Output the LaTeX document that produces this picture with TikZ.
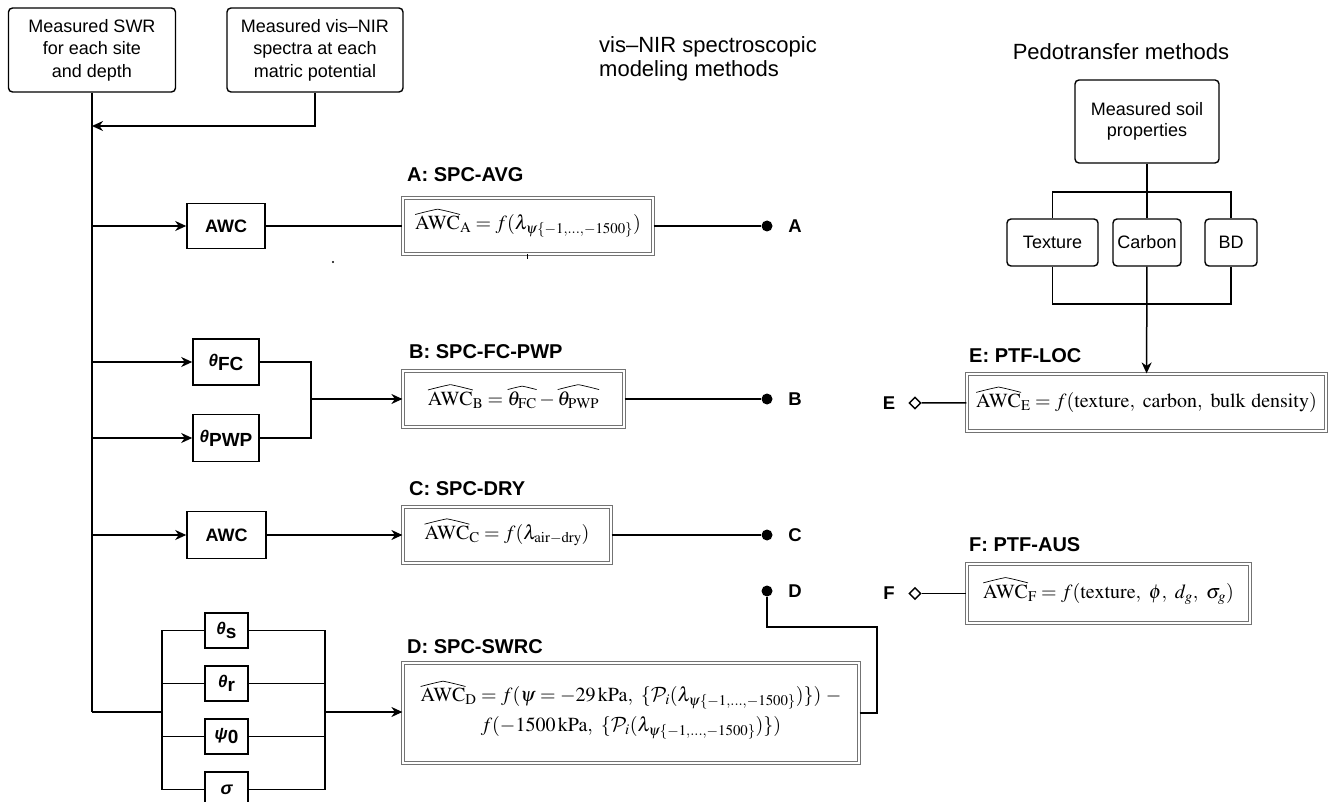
\documentclass[tikz,border=0pt]{standalone}
\usepackage{mathptmx}
\usepackage[no-math]{fontspec}
\setmainfont{Liberation Sans}
\usepackage{pict2e}
\usetikzlibrary{arrows.meta,shapes.geometric}
\DeclareMathAlphabet{\mathcal}{OMS}{cmsy}{m}{n}

\newsavebox\whbox
\newcommand\wh[1]{\mbox{\sbox\whbox{$#1$}%
  \setlength{\unitlength}{\wd\whbox}%
  \usebox\whbox\hspace*{-\wd\whbox}%
  \raisebox{\dimexpr\ht\whbox+1.8pt\relax}{\begin{picture}(1,0)\linethickness{0.7pt}%
    \qbezier(0,0)(0.3,0.08)(0.5,0.12)\qbezier(0.5,0.12)(0.7,0.08)(1,0)\end{picture}}}}
\newcommand\gsub[2]{{\fontsize{17}{17}\selectfont\bfseries\itshape #1}\raisebox{-4pt}{\fontsize{19}{19}\selectfont\bfseries #2}}

\tikzset{
  conn/.style={line width=1.5pt, draw=black},
  arr/.style={conn, -{Stealth[length=11pt,width=10pt,inset=3.5pt]}},
  rbox/.style={draw, line width=1.4pt, rounded corners=4pt, align=center, inner sep=0pt,
    font=\fontsize{18}{22.5}\selectfont},
  sbox/.style={draw, line width=1.6pt, align=center, inner sep=0pt,
    font=\fontsize{18}{20}\selectfont\bfseries},
  fmbox/.style={draw=black!55, double=white, double distance=1.3pt, line width=1.2pt,
    align=center, inner sep=0pt, font=\fontsize{20}{30}\selectfont},
  ttl/.style={anchor=west, inner sep=0pt, font=\fontsize{20}{24}\selectfont\bfseries},
  htitle/.style={inner sep=0pt, font=\fontsize{22}{24}\selectfont},
  lbl/.style={inner sep=0pt, font=\fontsize{18.5}{20}\selectfont\bfseries},
  dotn/.style={circle, fill=black, inner sep=0pt, minimum size=11pt},
  dia/.style={diamond, draw, line width=1.4pt, inner sep=0pt, minimum size=12pt, fill=white},
}

\begin{document}
\begin{tikzpicture}[x=1pt,y=-1pt]
\fill[white] (0,0) rectangle (1328,802);
\useasboundingbox (0,0) rectangle (1328,802);

% inputs
\node[rbox, minimum width=167pt, minimum height=84pt] (swr) at (92,50) {Measured SWR\\for each site\\and depth};
\node[rbox, minimum width=176pt, minimum height=84pt] (nir) at (315,50) {Measured vis–NIR\\spectra at each\\matric potential};

\coordinate (jN) at (92,126);
\coordinate (jA) at (92,226);
\coordinate (jB1) at (92,362);
\coordinate (jB2) at (92,438);
\coordinate (jC) at (92,535);
\coordinate (jD) at (92,712);
\draw[conn] (swr.south) -- (jD);
\draw[arr] (nir.south) |- (jN);

% headings
\node[htitle, anchor=west, align=left] (vis) at (599,59) {vis–NIR spectroscopic\\modeling methods};
\node[htitle] (pedo) at (1121,52) {Pedotransfer methods};

% A
\node[sbox, minimum width=78pt, minimum height=45pt] (awcA) at (226,226) {AWC};
\node[ttl] (tA) at (407,175) {A: SPC-AVG};
\node[fmbox, minimum width=250pt, minimum height=56pt] (fA) at (528,226)
  {$\wh{\mathrm{AWC}}_{\mathrm{A}} = f(\lambda_{\psi\{-1,\ldots,-1500\}})$};
\node[dotn] (dA) at (767,226) {};
\node[lbl] (lA) at (795,226) {A};
\draw[arr] (jA) -- (awcA);
\draw[conn] (awcA) -- (fA);
\draw[conn] (fA) -- (dA);
\fill (333,262) circle (1.2pt);
\draw[line width=1pt] (527,254) -- (527,259);

% B
\node[sbox, minimum width=66pt, minimum height=46pt] (thFC) at (226,362) {\gsub{θ}{FC}};
\node[sbox, minimum width=66pt, minimum height=47pt] (thPWP) at (226,438) {\gsub{θ}{PWP}};
\coordinate (mB) at (311,399);
\node[ttl] (tB) at (409,352) {B: SPC-FC-PWP};
\node[fmbox, minimum width=221pt, minimum height=56pt] (fB) at (513.5,399)
  {$\wh{\mathrm{AWC}}_{\mathrm{B}} = \wh{\theta_{\mathrm{FC}}} - \wh{\theta_{\mathrm{PWP}}}$};
\node[dotn] (dB) at (767,399) {};
\node[lbl] (lB) at (795,399) {B};
\draw[arr] (jB1) -- (thFC);
\draw[arr] (jB2) -- (thPWP);
\draw[conn] (thFC.east) -| (mB);
\draw[conn] (thPWP.east) -| (mB);
\draw[arr] (mB) -- (fB);
\draw[conn] (fB) -- (dB);

% C
\node[sbox, minimum width=79pt, minimum height=47pt] (awcC) at (226.5,535) {AWC};
\node[ttl] (tC) at (409,489) {C: SPC-DRY};
\node[fmbox, minimum width=208pt, minimum height=56pt] (fC) at (507,535)
  {$\wh{\mathrm{AWC}}_{\mathrm{C}} = f(\lambda_{\mathrm{air}{-}\mathrm{dry}})$};
\node[dotn] (dC) at (767,535) {};
\node[lbl] (lC) at (795,535) {C};
\draw[arr] (jC) -- (awcC);
\draw[arr] (awcC) -- (fC);
\draw[conn] (fC) -- (dC);

% D
\node[sbox, minimum width=43pt, minimum height=35pt] (ths) at (226.5,630.5) {\gsub{θ}{s}};
\node[sbox, minimum width=43pt, minimum height=35pt] (thr) at (226.5,683.5) {\gsub{θ}{r}};
\node[sbox, minimum width=43pt, minimum height=35pt] (psi) at (226.5,736.5) {\gsub{ψ}{0}};
\node[sbox, minimum width=43pt, minimum height=35pt] (sig) at (226.5,789.5) {\itshape σ};
\coordinate (lbD) at (162,712);
\coordinate (rbD) at (325,712);
\draw[conn] (jD) -- (lbD);
\draw[conn] (ths.west) -- (ths.west -| lbD) -- (sig.west -| lbD) -- (sig.west);
\draw[conn] (thr.west) -- (thr.west -| lbD);
\draw[conn] (psi.west) -- (psi.west -| lbD);
\draw[conn] (ths.east) -- (ths.east -| rbD) -- (sig.east -| rbD) -- (sig.east);
\draw[conn] (thr.east) -- (thr.east -| rbD);
\draw[conn] (psi.east) -- (psi.east -| rbD);
\node[ttl] (tD) at (407,647) {D: SPC-SWRC};
\node[fmbox, minimum width=456pt, minimum height=100pt] (fD) at (631,713)
  {$\wh{\mathrm{AWC}}_{\mathrm{D}} = f(\psi = -29\,\mathrm{kPa},\ \{\mathcal{P}_i(\lambda_{\psi\{-1,\ldots,-1500\}})\})\;-$\\
   $f(-1500\,\mathrm{kPa},\ \{\mathcal{P}_i(\lambda_{\psi\{-1,\ldots,-1500\}})\})$};
\draw[arr] (rbD) -- (rbD -| fD.west);
\node[dotn] (dD) at (767,591) {};
\node[lbl] (lD) at (795,591) {D};
\coordinate (cD) at (877,627);
\draw[conn] (fD.east) -| (cD) -| (dD);

% pedotransfer
\node[rbox, minimum width=144pt, minimum height=83pt, font=\fontsize{18}{21}\selectfont] (soil) at (1147,121.5) {Measured soil\\properties};
\node[rbox, minimum width=91pt, minimum height=47pt] (tex) at (1052.5,242.5) {Texture};
\node[rbox, minimum width=68pt, minimum height=47pt] (carb) at (1147,242.5) {Carbon};
\node[rbox, minimum width=52pt, minimum height=47pt] (bd) at (1231,242.5) {BD};
\coordinate (jT) at (1147,192);
\coordinate (jU) at (1147,304);
\draw[conn] (soil) -- (carb);
\draw[conn] (tex) |- (jT) -| (bd);
\draw[conn] (tex) |- (jU) -| (bd);

% E
\node[ttl] (tE) at (969,356) {E: PTF-LOC};
\node[fmbox, minimum width=359pt, minimum height=57pt] (fE) at (1146.5,402.5)
  {$\wh{\mathrm{AWC}}_{\mathrm{E}} = f(\mathrm{texture},\ \mathrm{carbon},\ \mathrm{bulk\ density})$};
\draw[arr] (carb) -- (fE);
\node[dia] (mE) at (915,403) {};
\node[lbl] (lE) at (889,403) {E};
\draw[conn] (mE) -- (fE);

% F
\node[ttl] (tF) at (969,545) {F: PTF-AUS};
\node[fmbox, minimum width=283pt, minimum height=59pt] (fF) at (1108.5,593.5)
  {$\wh{\mathrm{AWC}}_{\mathrm{F}} = f(\mathrm{texture},\ \phi,\ d_g,\ \sigma_g)$};
\node[dia] (mF) at (915,593.5) {};
\node[lbl] (lF) at (889,593.5) {F};
\draw[conn] (mF) -- (fF);
\end{tikzpicture}
\end{document}
